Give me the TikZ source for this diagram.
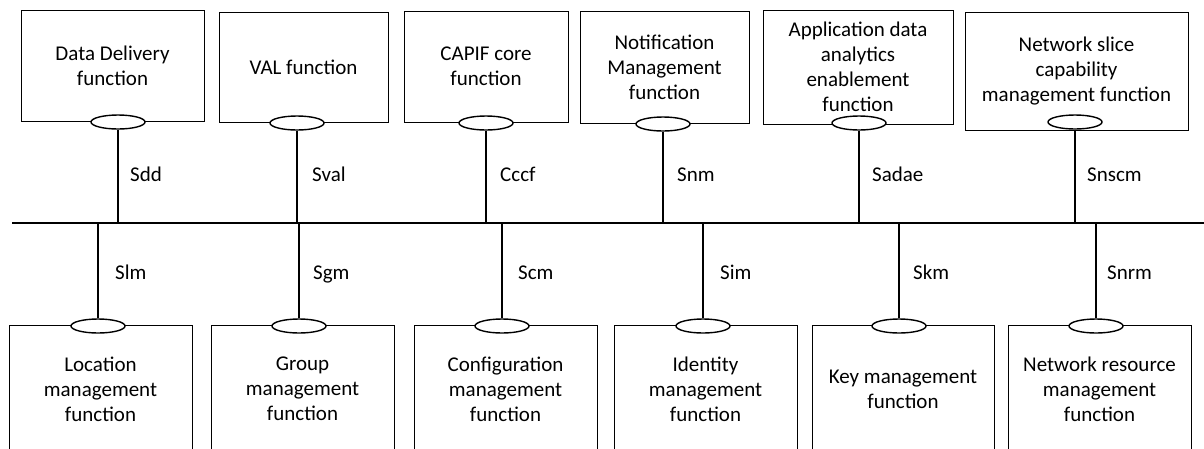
\documentclass[tikz,border=0pt]{standalone}
\usepackage{fontspec}
\setmainfont{Carlito}
\usetikzlibrary{shapes.geometric}
\begin{document}
\begin{tikzpicture}[x=1pt,y=-1pt,
  fbox/.style 2 args={draw, line width=0.9pt, minimum width=#1pt, minimum height=#2pt, inner sep=0pt, align=center, font=\fontsize{21}{25}\selectfont},
  port/.style={draw, ellipse, fill=white, line width=1.4pt, minimum width=54pt, minimum height=14pt, inner sep=0pt},
  link/.style={line width=1.6pt},
  ilabel/.style={anchor=base west, inner sep=0pt, font=\fontsize{21}{25}\selectfont}]
\useasboundingbox (0,0) rectangle (1204,448);
\clip (0,0) rectangle (1204,448);
% top boxes
\node[fbox={183}{111}] (b1) at (112.5,65.5) {Data Delivery\\function};
\node[fbox={169}{110}] (b2) at (303.5,67) {VAL function};
\node[fbox={164}{111}] (b3) at (486,66.5) {CAPIF core\\function};
\node[fbox={169}{112}] (b4) at (664.5,67) {Notification\\Management\\function};
\node[fbox={190}{114}] (b5) at (858,67) {Application data\\analytics\\enablement\\function};
\node[fbox={223}{118}] (b6) at (1076.5,71) {Network slice\\capability\\management function};
% bottom boxes
\node[fbox={183}{128}] (c1) at (100.5,389) {Location\\management\\function};
\node[fbox={183}{128}] (c2) at (302.5,389) {Group\\management\\function};
\node[fbox={183}{128}] (c3) at (505.5,389) {Configuration\\management\\function};
\node[fbox={183}{128}] (c4) at (705.5,389) {Identity\\management\\function};
\node[fbox={182}{128}] (c5) at (903,389) {Key management\\function};
\node[fbox={183}{128}] (c6) at (1099.5,389) {Network resource\\management\\function};
% ports
\node[port] (p1) at (118,122) {};
\node[port] (p2) at (297,123) {};
\node[port] (p3) at (486,123) {};
\node[port] (p4) at (663,124) {};
\node[port] (p5) at (859,123) {};
\node[port] (p6) at (1075,122) {};
\node[port] (q1) at (98,326) {};
\node[port] (q2) at (299,326) {};
\node[port] (q3) at (502,326) {};
\node[port] (q4) at (703,326) {};
\node[port] (q5) at (899,326) {};
\node[port] (q6) at (1096,326) {};
% bus
\coordinate (busL) at (12,223);
\coordinate (busR) at (1204,223);
\draw[link] (busL) -- (busR);
\foreach \p in {p1,p2,p3,p4,p5,p6} {\draw[link] (\p.south) -- (\p.south |- busL);}
\foreach \q in {q1,q2,q3,q4,q5,q6} {\draw[link] (\q.north) -- (\q.north |- busL);}
% labels
\node[ilabel] (l1) at (130,181) {Sdd};
\node[ilabel] (l2) at (312,181) {Sval};
\node[ilabel] (l3) at (500,181) {Cccf};
\node[ilabel] (l4) at (677,181) {Snm};
\node[ilabel] (l5) at (872,181) {Sadae};
\node[ilabel] (l6) at (1087,181) {Snscm};
\node[ilabel] (m1) at (115,279) {Slm};
\node[ilabel] (m2) at (313,279) {Sgm};
\node[ilabel] (m3) at (518,279) {Scm};
\node[ilabel] (m4) at (720,279) {Sim};
\node[ilabel] (m5) at (913,279) {Skm};
\node[ilabel] (m6) at (1107,279) {Snrm};
\end{tikzpicture}
\end{document}
